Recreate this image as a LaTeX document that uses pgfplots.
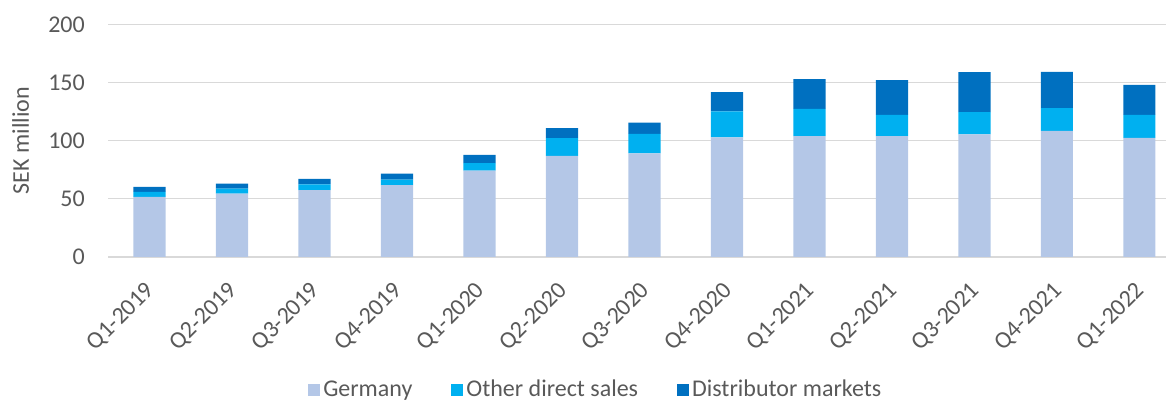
\documentclass[border=0pt]{standalone}
\usepackage{fontspec}
\setmainfont{Carlito}
\usepackage{pgfplots}
\pgfplotsset{compat=1.18}
\definecolor{cGer}{HTML}{B4C7E7}
\definecolor{cOth}{HTML}{00B0F0}
\definecolor{cDis}{HTML}{0070C0}
\definecolor{cGrid}{HTML}{D9D9D9}
\definecolor{cTxt}{HTML}{595959}
\begin{document}
\begin{tikzpicture}
\begin{axis}[
  at={(0,0)}, anchor=south west,
  scale only axis,
  width=528.8pt, height=116.15pt,
  ybar stacked, bar width=0.39,
  xmin=-0.5, xmax=12.32,
  ymin=0, ymax=200,
  ytick={0,50,100,150,200},
  xtick={0,...,12},
  xticklabels={Q1-2019,Q2-2019,Q3-2019,Q4-2019,Q1-2020,Q2-2020,Q3-2020,Q4-2020,Q1-2021,Q2-2021,Q3-2021,Q4-2021,Q1-2022},
  ymajorgrids, grid style={cGrid, line width=0.75pt},
  axis line style={draw=none},
  major tick style={draw=none},
  /pgf/number format/assume math mode=true,
  tick label style={font=\fontsize{12}{14}\selectfont, text=cTxt},
  yticklabel style={inner sep=0pt, anchor=east, xshift=-11.5pt},
  xticklabel style={yshift=-15pt, xshift=1pt, rotate=45, anchor=east, inner sep=0pt},
  ylabel={SEK million},
  every axis y label/.style={at={(axis description cs:-0.0827,0.5)}, rotate=90, anchor=center, font=\fontsize{12}{14}\selectfont, text=cTxt},
  legend style={at={(axis description cs:0.4615,-0.573)}, anchor=center, draw=none, fill=none,
    font=\fontsize{12}{14}\selectfont, text=cTxt, legend columns=-1,
    /tikz/every odd column/.append style={column sep=0pt},
    /tikz/every even column/.append style={column sep=18pt},
    /tikz/every node/.append style={inner sep=1.5pt}},
  legend image code/.code={\draw[#1, draw=none] (0pt,-3pt) rectangle (6pt,3pt);},
]
\addplot[fill=cGer, draw=none] coordinates {(0,51.7) (1,54.3) (2,57.5) (3,61.8) (4,74.1) (5,86.8) (6,89.1) (7,102.9) (8,103.8) (9,103.8) (10,105.5) (11,108.4) (12,102.3)};
\addplot[fill=cOth, draw=none] coordinates {(0,4.1) (1,4.3) (2,4.8) (3,4.6) (4,6.6) (5,15.3) (6,16.7) (7,22.4) (8,23.5) (9,18.4) (10,19.0) (11,19.5) (12,19.9)};
\addplot[fill=cDis, draw=none] coordinates {(0,4.3) (1,4.3) (2,4.7) (3,5.2) (4,7.0) (5,8.6) (6,9.7) (7,16.4) (8,25.6) (9,29.9) (10,34.5) (11,31.3) (12,25.8)};
\legend{Germany, Other direct sales, Distributor markets}
\end{axis}
\pgfresetboundingbox
\path (-54.1pt,-72.1pt) rectangle (529.9pt,128.4pt);
\end{tikzpicture}
\end{document}
